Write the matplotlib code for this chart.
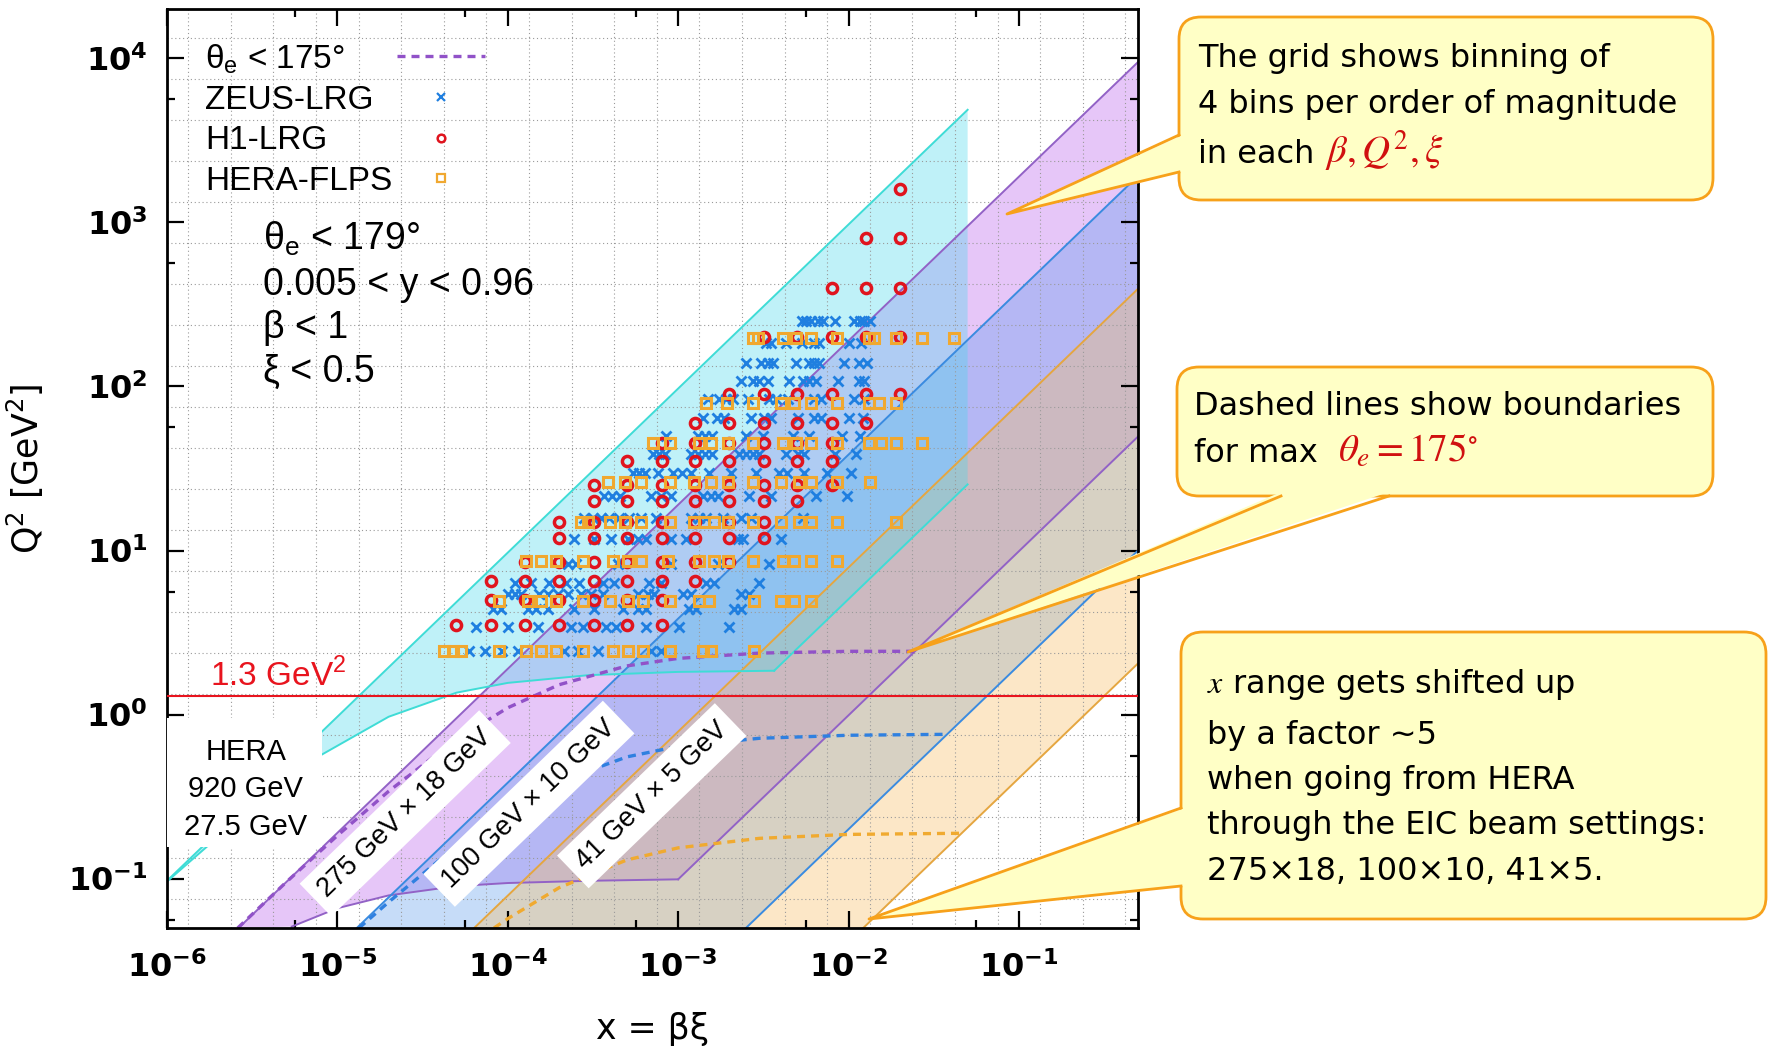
import numpy as np
import matplotlib
matplotlib.use("Agg")
import matplotlib.pyplot as plt
from matplotlib.lines import Line2D
from matplotlib.patches import FancyBboxPatch, Polygon, Rectangle
from matplotlib.ticker import FixedLocator, FuncFormatter, NullFormatter
from matplotlib.transforms import IdentityTransform

W, H = 1769, 1046

# ---- kinematic bands, (x, Q2) pairs ----
# HERA 920 x 27.5 GeV
hera_up_x = [1e-6, 0.05]
hera_up_q2 = [0.097, 4860]
hera_lo_x = [3.66e-3, 0.05]
hera_lo_q2 = [1.85, 25.3]
hera_th_x = [1e-6, 2e-6, 4e-6, 8.1e-6, 2e-5, 5e-5, 1e-4, 3e-4, 1e-3, 3.66e-3]
hera_th_q2 = [0.096, 0.18, 0.33, 0.57, 0.97, 1.36, 1.56, 1.74, 1.82, 1.85]

# EIC 275 x 18
e18_up_x = [2.63e-6, 0.5]
e18_up_q2 = [0.05, 9500]
e18_lo_x = [1e-3, 0.5]
e18_lo_q2 = [0.099, 49.5]
e18_th_x = [5.4e-6, 1e-5, 2e-5, 5e-5, 1e-4, 3e-4, 1e-3]
e18_th_q2 = [0.051, 0.066, 0.079, 0.090, 0.094, 0.097, 0.099]
e18_dash_x = [2.6e-6, 5e-6, 1e-5, 2e-5, 5e-5, 1e-4, 2e-4, 5e-4, 1e-3, 3e-3, 1e-2, 2.45e-2]
e18_dash_q2 = [0.05, 0.095, 0.183, 0.341, 0.707, 1.10, 1.52, 1.98, 2.20, 2.37, 2.43, 2.43]

# EIC 100 x 10
e10_up_x = [1.3e-5, 0.5]
e10_up_q2 = [0.05, 1920]
e10_lo_x = [2.5e-3, 0.5]
e10_lo_q2 = [0.05, 10]
e10_dash_x = [1.34e-5, 2e-5, 5e-5, 1e-4, 2e-4, 5e-4, 1e-3, 3e-3, 1e-2, 3.8e-2]
e10_dash_q2 = [0.05, 0.072, 0.158, 0.262, 0.39, 0.552, 0.64, 0.717, 0.748, 0.758]

# EIC 41 x 5
e5_up_x = [6.35e-5, 0.5]
e5_up_q2 = [0.05, 394]
e5_lo_x = [0.0122, 0.5]
e5_lo_q2 = [0.05, 2.05]
e5_dash_x = [8.3e-5, 1e-4, 2e-4, 5e-4, 1e-3, 3e-3, 1e-2, 4.6e-2]
e5_dash_q2 = [0.05, 0.057, 0.088, 0.13, 0.154, 0.176, 0.186, 0.189]

# ---- measured points: one Q2 per row, list of x per row ----
zeus_q2 = [2.45, 3.4, 4.4, 5.4, 6.3, 8.3, 11.8, 15.7, 21.6, 29.6, 39, 50, 64, 84, 108, 139, 184, 251]
zeus_x = [
    [5.9e-5, 7.4e-5, 9.3e-5, 1.15e-4, 2.13e-4, 2.58e-4, 3.38e-4, 6.93e-4, 7.94e-4],
    [6.5e-5, 1.01e-4, 1.5e-4, 2.35e-4, 2.76e-4, 3.77e-4, 4.32e-4, 6.48e-4, 1.01e-3, 1.99e-3],
    [8.2e-5, 9.1e-5, 1.31e-4, 1.46e-4, 1.72e-4, 2.44e-4, 3.21e-4, 4.75e-4, 5.81e-4, 6.48e-4,
     1.16e-3, 1.28e-3, 2.13e-3, 2.35e-3],
    [1.0e-4, 1.11e-4, 1.19e-4, 1.52e-4, 1.72e-4, 1.97e-4, 2.25e-4, 2.69e-4, 3.08e-4, 3.62e-4,
     5.81e-4, 6.66e-4, 7.22e-4, 1.07e-3, 1.19e-3, 2.35e-3, 2.62e-3],
    [1.11e-4, 1.37e-4, 1.74e-4, 2.19e-4, 2.62e-4, 3.62e-4, 4.2e-4, 6.75e-4, 7.94e-4, 1.46e-3,
     1.63e-3, 2.99e-3],
    [2.25e-4, 2.51e-4, 4.44e-4, 9.1e-4, 1.72e-3, 3.43e-3],
    [2.44e-4, 3.21e-4, 4.04e-4, 5.08e-4, 5.81e-4, 6.48e-4, 9.1e-4, 1.11e-3, 2.25e-3, 2.41e-3, 4.04e-3],
    [2.8e-4, 3.16e-4, 3.52e-4, 3.93e-4, 4.5e-4, 5.15e-4, 6.05e-4, 7.43e-4, 1.19e-3, 1.33e-3,
     1.46e-3, 1.84e-3, 2.35e-3, 2.69e-3, 5.43e-3],
    [3.67e-4, 4.09e-4, 4.56e-4, 6.93e-4, 7.94e-4, 9.1e-4, 1.4e-3, 1.56e-3, 1.72e-3, 2.62e-3,
     3.52e-3, 6.48e-3, 9.73e-3],
    [5.43e-4, 5.9e-4, 6.39e-4, 7.63e-4, 9.35e-4, 1.06e-3, 1.19e-3, 1.52e-3, 2.05e-3, 2.88e-3,
     3.93e-3, 4.38e-3, 5.5e-3, 7.43e-3, 1.04e-2],
    [7.13e-4, 7.73e-4, 8.39e-4, 1.19e-3, 1.31e-3, 1.44e-3, 1.58e-3, 2.29e-3, 2.51e-3, 2.76e-3,
     2.99e-3, 4.32e-3, 5.08e-3, 5.5e-3, 8.28e-3, 1.11e-2],
    [8.5e-4, 1.31e-3, 1.44e-3, 1.58e-3, 2.51e-3, 3.16e-3, 4.75e-3, 5.9e-3, 9.1e-3, 1.16e-2],
    [1.4e-3, 1.69e-3, 1.87e-3, 2.69e-3, 3.21e-3, 3.52e-3, 5.08e-3, 6.3e-3, 6.93e-3, 1.0e-2, 1.22e-2],
    [1.5e-3, 1.74e-3, 1.92e-3, 2.11e-3, 2.58e-3, 3.43e-3, 3.77e-3, 4.44e-3, 6.3e-3, 6.93e-3,
     1.07e-2, 1.24e-2],
    [2.35e-3, 2.76e-3, 2.99e-3, 3.38e-3, 4.5e-3, 5.43e-3, 5.9e-3, 6.48e-3, 8.73e-3, 1.15e-2, 1.24e-2],
    [2.51e-3, 3.08e-3, 3.38e-3, 3.62e-3, 4.94e-3, 5.9e-3, 6.3e-3, 6.75e-3, 9.47e-3, 1.15e-2, 1.28e-2],
    [3.3e-3, 3.52e-3, 4.32e-3, 5.3e-3, 6.3e-3, 6.75e-3, 1.01e-2, 1.19e-2],
    [5.3e-3, 5.66e-3, 6.05e-3, 6.66e-3, 7.13e-3, 8.28e-3, 1.08e-2, 1.16e-2, 1.24e-2, 1.33e-2],
]

h1_q2 = [3.5, 5, 6.5, 8.5, 12, 15, 20, 25, 35, 45, 60, 90, 200, 400, 800, 1600]
h1_x = [
    [5e-5, 8e-5, 1.26e-4, 2e-4, 3.2e-4, 5e-4, 8e-4],
    [8e-5, 1.26e-4, 2e-4, 3.2e-4, 5e-4, 8e-4],
    [8e-5, 1.26e-4, 2e-4, 3.2e-4, 5e-4, 8e-4, 1.26e-3],
    [1.26e-4, 2e-4, 3.2e-4, 5e-4, 8e-4, 1.26e-3, 2e-3],
    [2e-4, 3.2e-4, 5e-4, 8e-4, 1.26e-3, 2e-3, 3.2e-3],
    [2e-4, 3.2e-4, 5e-4, 8e-4, 1.26e-3, 2e-3, 3.2e-3],
    [3.2e-4, 5e-4, 8e-4, 1.26e-3, 2e-3, 3.2e-3, 5e-3],
    [3.2e-4, 5e-4, 8e-4, 1.26e-3, 2e-3, 3.2e-3, 5e-3, 8e-3],
    [5e-4, 8e-4, 1.26e-3, 2e-3, 3.2e-3, 5e-3, 8e-3],
    [8e-4, 1.26e-3, 2e-3, 3.2e-3, 5e-3, 8e-3],
    [1.26e-3, 2e-3, 3.2e-3, 5e-3, 8e-3, 1.26e-2],
    [2e-3, 3.2e-3, 5e-3, 8e-3, 1.26e-2, 2e-2],
    [3.2e-3, 5e-3, 8e-3, 1.26e-2, 2e-2],
    [8e-3, 1.26e-2, 2e-2],
    [1.26e-2, 2e-2],
    [2e-2],
]

flps_q2 = [2.45, 4.9, 8.6, 15, 26, 45, 79, 197]
flps_x = [
    [4.2e-5, 4.75e-5, 5.3e-5, 8.9e-5, 1.28e-4, 1.56e-4, 1.91e-4, 2.76e-4, 4.15e-4, 5.1e-4,
     6.2e-4, 8.9e-4, 1.4e-3, 1.56e-3, 2.8e-3],
    [8.9e-5, 1.31e-4, 1.56e-4, 1.91e-4, 2.76e-4, 4.0e-4, 5.1e-4, 6.2e-4, 8.9e-4, 1.32e-3,
     1.52e-3, 2.8e-3, 4.0e-3, 4.8e-3, 6.0e-3],
    [1.28e-4, 1.56e-4, 1.91e-4, 2.76e-4, 4.15e-4, 5.1e-4, 6.05e-4, 8.7e-4, 1.32e-3, 1.62e-3,
     1.97e-3, 2.75e-3, 4.1e-3, 4.8e-3, 6.0e-3, 8.6e-3],
    [2.7e-4, 2.96e-4, 4.0e-4, 4.9e-4, 6.05e-4, 8.9e-4, 1.24e-3, 1.42e-3, 1.62e-3, 1.97e-3,
     2.75e-3, 4.0e-3, 5.1e-3, 6.0e-3, 8.6e-3, 1.9e-2],
    [3.9e-4, 4.9e-4, 6.05e-4, 8.9e-4, 1.24e-3, 1.56e-3, 1.97e-3, 2.75e-3, 4.0e-3, 5.1e-3,
     6.0e-3, 8.6e-3, 1.33e-2],
    [7.1e-4, 8.9e-4, 1.32e-3, 1.56e-3, 1.97e-3, 2.75e-3, 4.1e-3, 4.9e-3, 6.0e-3, 8.6e-3,
     1.31e-2, 1.56e-2, 1.9e-2, 2.7e-2],
    [1.46e-3, 1.93e-3, 2.75e-3, 4.0e-3, 4.8e-3, 6.0e-3, 8.6e-3, 1.31e-2, 1.5e-2, 1.9e-2],
    [2.75e-3, 2.96e-3, 4.1e-3, 4.9e-3, 6.0e-3, 8.6e-3, 1.31e-2, 1.42e-2, 1.9e-2, 2.7e-2, 4.15e-2],
]

q2_cut = 1.3
legend_labels = ["θ$_{\\mathregular{e}}$ < 175°", "ZEUS-LRG", "H1-LRG", "HERA-FLPS"]
cut_lines = ["θ$_{\\mathregular{e}}$ < 179°", "0.005 < y < 0.96", "β < 1", "ξ < 0.5"]

# colours
c_cyan_f, c_cyan_l = (0.29, 0.85, 0.92), "#3fdcd6"
c_purp_f, c_purp_l = (0.72, 0.36, 0.92), "#9262c6"
c_blue_f, c_blue_l = (0.36, 0.61, 0.93), "#3a8be0"
c_oran_f, c_oran_l = (0.97, 0.74, 0.38), "#e5a640"
c_zeus, c_h1, c_flps = "#1f7fe0", "#e0141e", "#f0a830"
c_yellow, c_orange = "#ffffc6", "#f7a11a"

fig = plt.figure(figsize=(W / 100, H / 100), dpi=100)
ax = fig.add_axes([167 / W, 1 - 928 / H, (1138 - 167) / W, (928 - 9) / H])
ax.set_xscale("log")
ax.set_yscale("log")
ax.set_xlim(1e-6, 0.5)
ax.set_ylim(0.05, 2e4)


def band(up_x, up_q2, lo_x, lo_q2, th_x, th_q2, fc, ec):
    xs = list(up_x) + list(lo_x)[::-1] + list(th_x)[::-1]
    ys = list(up_q2) + list(lo_q2)[::-1] + list(th_q2)[::-1]
    ax.fill(xs, ys, color=fc, alpha=0.35, lw=0, zorder=1)
    ax.plot(up_x, up_q2, color=ec, lw=1.4, zorder=2)
    ax.plot(lo_x, lo_q2, color=ec, lw=1.4, zorder=2)
    if th_x:
        ax.plot(th_x, th_q2, color=ec, lw=1.4, zorder=2)


band(e18_up_x, e18_up_q2, e18_lo_x, e18_lo_q2, e18_th_x, e18_th_q2, c_purp_f, c_purp_l)
band(e10_up_x, e10_up_q2, e10_lo_x, e10_lo_q2, [], [], c_blue_f, c_blue_l)
band(e5_up_x, e5_up_q2, e5_lo_x, e5_lo_q2, [], [], c_oran_f, c_oran_l)
band(hera_up_x, hera_up_q2, hera_lo_x, hera_lo_q2, hera_th_x, hera_th_q2, c_cyan_f, c_cyan_l)

dash_kw = dict(lw=2.4, dashes=(2.4, 1.8), zorder=2.2)
ax.plot(e18_dash_x, e18_dash_q2, color="#9152c8", **dash_kw)
ax.plot(e10_dash_x, e10_dash_q2, color="#2f80e0", **dash_kw)
ax.plot(e5_dash_x, e5_dash_q2, color="#f0aa30", **dash_kw)

# dotted grid on the bin edges (4 bins per decade)
edges = 10.0 ** (np.arange(-6.0, 4.6, 0.25) + 0.125)
grid_kw = dict(color="#9a9a9a", lw=0.8, linestyles=(0, (1, 2.5)), zorder=1.5)
ax.vlines(edges[edges < 0.5], 0.05, 2e4, **grid_kw)
ax.hlines(edges[edges > 0.05], 1e-6, 0.5, **grid_kw)

# white box behind the HERA label
ax.add_patch(Rectangle((1e-6, 0.155), 7.1e-6, 0.8, fc="white", ec="none", zorder=2.6))
ax.text(2.9e-6, 0.35, "HERA\n920 GeV\n27.5 GeV", ha="center", va="center",
        fontsize=21, family="Liberation Sans", linespacing=1.42, zorder=6)

ax.axhline(q2_cut, color="#e8141e", lw=1.5, zorder=3)
ax.text(1.8e-6, 1.5, "1.3 GeV$^{\\mathregular{2}}$", color="#e8141e", fontsize=24,
        family="Liberation Sans", va="baseline", zorder=6)

lab_kw = dict(rotation=44, rotation_mode="anchor", ha="center", va="center", fontsize=19.5,
              family="Liberation Sans", zorder=4,
              bbox=dict(fc="white", ec="none", pad=7))
ax.text(2.5e-5, 0.25, "275 GeV × 18 GeV", **lab_kw)
ax.text(1.33e-4, 0.286, "100 GeV × 10 GeV", **lab_kw)
ax.text(7.0e-4, 0.32, "41 GeV × 5 GeV", **lab_kw)


def rows(xrows, q2s, **kw):
    xs = [x for r in xrows for x in r]
    ys = [q for r, q in zip(xrows, q2s) for _ in r]
    ax.plot(xs, ys, ls="none", zorder=5, **kw)


zeus_kw = dict(marker="x", color=c_zeus, ms=7.5, mew=2.0)
h1_kw = dict(marker="o", mfc="none", mec=c_h1, ms=7.3, mew=2.5)
flps_kw = dict(marker="s", mfc="none", mec=c_flps, ms=6.8, mew=2.2)
rows(zeus_x, zeus_q2, **zeus_kw)
rows(h1_x, h1_q2, **h1_kw)
rows(flps_x, flps_q2, **flps_kw)

# axes cosmetics
ax.xaxis.set_major_locator(FixedLocator(10.0 ** np.arange(-6, 0)))
ax.yaxis.set_major_locator(FixedLocator(10.0 ** np.arange(-1, 5)))
ax.xaxis.set_minor_locator(FixedLocator(10.0 ** (np.arange(-5, 1) - 0.25)))
ax.yaxis.set_minor_locator(FixedLocator(10.0 ** (np.arange(-1, 5) - 0.25)))
fmt = FuncFormatter(lambda v, p: "$\\mathregular{10^{%d}}$" % round(np.log10(v)))
ax.xaxis.set_major_formatter(fmt)
ax.yaxis.set_major_formatter(fmt)
ax.xaxis.set_minor_formatter(NullFormatter())
ax.yaxis.set_minor_formatter(NullFormatter())
ax.tick_params(which="both", direction="in", top=True, right=True, width=1.6)
ax.tick_params(which="major", length=12)
ax.tick_params(which="minor", length=6)
ax.tick_params(axis="x", labelsize=23, pad=17)
ax.tick_params(axis="y", labelsize=23, pad=14)
for lbl in ax.get_xticklabels() + ax.get_yticklabels():
    lbl.set_fontweight("bold")
for s in ax.spines.values():
    s.set_linewidth(2.0)
ax.set_xlabel("x = βξ", fontsize=25, labelpad=20)
ax.set_ylabel("Q$^{\\mathregular{2}}$ [GeV$^{\\mathregular{2}}$]", fontsize=25, labelpad=16)

# legend: labels left-aligned, symbols in their own column
leg_font = dict(family="Liberation Sans", size=24)
leg_common = dict(loc="upper left", frameon=False, borderpad=0, borderaxespad=0,
                  labelspacing=0.28, prop=leg_font)
blank = [Line2D([], [], ls="none") for _ in legend_labels]
legA = ax.legend(blank, legend_labels, bbox_to_anchor=(0.039, 0.964),
                 handlelength=0, handletextpad=0, **leg_common)
ax.add_artist(legA)
symbols = [Line2D([], [], color="#9152c8", lw=2.4, dashes=(2.4, 1.8)),
           Line2D([], [], ls="none", marker="x", color=c_zeus, ms=5.5, mew=1.6),
           Line2D([], [], ls="none", marker="o", mfc="none", mec=c_h1, ms=5.5, mew=1.8),
           Line2D([], [], ls="none", marker="s", mfc="none", mec=c_flps, ms=5.5, mew=1.6)]
legB = ax.legend(symbols, legend_labels, bbox_to_anchor=(0.237, 0.964),
                 handlelength=2.64, handletextpad=0, **leg_common)
for t in legB.get_texts():
    t.set_color("none")

for y, s in zip([0.738, 0.689, 0.642, 0.594], cut_lines):
    ax.text(0.099, y, s, transform=ax.transAxes, fontsize=27, family="Liberation Sans",
            va="baseline", zorder=6)


# ---- callouts (pixel positions of the boxes) ----
ID = IdentityTransform()


def callout(x0, y0, x1, y1, b1, b2, tip, inward):
    fig.add_artist(FancyBboxPatch((x0, H - y1), x1 - x0, y1 - y0,
                                  boxstyle="round,pad=0,rounding_size=22", transform=ID,
                                  fc=c_yellow, ec=c_orange, lw=2, zorder=20))
    dx, dy = inward
    fill_pts = [(b1[0] + dx, H - b1[1] - dy), (tip[0], H - tip[1]), (b2[0] + dx, H - b2[1] - dy)]
    fig.add_artist(Polygon(fill_pts, closed=True, transform=ID, fc=c_yellow, ec="none", zorder=21))
    fig.add_artist(Line2D([b1[0], tip[0], b2[0]], [H - b1[1], H - tip[1], H - b2[1]],
                          transform=ID, color=c_orange, lw=2, zorder=22))


callout(1179, 17, 1713, 200, (1179, 135), (1179, 172), (1007, 214), (4, 0))
callout(1177, 367, 1713, 496, (1281, 496), (1389, 496), (908, 652), (0, -4))
callout(1181, 632, 1766, 919, (1181, 808), (1181, 886), (869, 919), (4, 0))

txt_kw = dict(fontsize=23, family="DejaVu Sans", va="baseline", zorder=30)
math_kw = dict(fontsize=28, math_fontfamily="stix", va="baseline", zorder=30)
renderer = fig.canvas.get_renderer()


def line(X, Y, s, red=None):
    t = fig.text(X / W, 1 - Y / H, s, **txt_kw)
    if red:
        bb = t.get_window_extent(renderer=renderer)
        fig.text(bb.x1 / W, 1 - Y / H, red, color="#d01010", **math_kw)


line(1198, 67, "The grid shows binning of")
line(1198, 113, "4 bins per order of magnitude")
line(1198, 163, "in each ", "$\\beta, Q^2, \\xi$")
line(1194, 415, "Dashed lines show boundaries")
line(1194, 462, "for max  ", "$\\theta_e = 175^{\\circ}$")
fig.text(1207 / W, 1 - 693 / H, "$x$ range gets shifted up", math_fontfamily="stix", **txt_kw)
line(1207, 744, "by a factor ~5")
line(1207, 789, "when going from HERA")
line(1207, 834, "through the EIC beam settings:")
line(1207, 880, "275×18, 100×10, 41×5.")

fig.savefig("out.png", dpi=100)
